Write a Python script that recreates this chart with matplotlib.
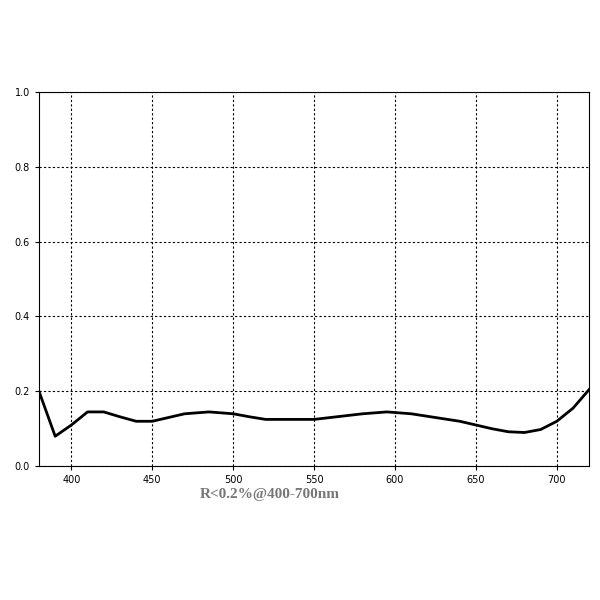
import matplotlib
matplotlib.use("Agg")
import matplotlib.pyplot as plt

wavelength = [380, 390, 400, 410, 420, 430, 440, 450, 460, 470, 485, 500, 510, 520,
              550, 560, 580, 595, 610, 625, 640, 660, 670, 680, 690, 700, 710, 720]
reflect = [0.20, 0.08, 0.11, 0.145, 0.145, 0.132, 0.12, 0.12, 0.13, 0.14, 0.145, 0.14,
           0.132, 0.125, 0.125, 0.13, 0.14, 0.145, 0.14, 0.13, 0.12, 0.10, 0.092, 0.09,
           0.098, 0.12, 0.155, 0.205]
xticks = [400, 450, 500, 550, 600, 650, 700]
yticks = [0.0, 0.2, 0.4, 0.6, 0.8, 1.0]

fig = plt.figure(figsize=(6, 6), dpi=100)
ax = fig.add_axes([0.065, 0.223, 0.917, 0.624])
ax.plot(wavelength, reflect, color="black", lw=2)
ax.set_xlim(380, 720)
ax.set_ylim(0, 1.0)
ax.set_xticks(xticks)
ax.set_yticks(yticks)
ax.set_yticklabels([f"{v:.1f}" for v in yticks])
ax.tick_params(labelsize=7, length=3, direction="out")
ax.grid(True, color="black", linestyle=(0, (2, 2)), lw=0.8)
for s in ax.spines.values():
    s.set_linewidth(0.8)
fig.text(0.45, 0.17, "R<0.2%@400-700nm", family="Liberation Serif", fontsize=11,
         color="#777777", fontweight="bold", ha="center")
fig.savefig("out.png")
